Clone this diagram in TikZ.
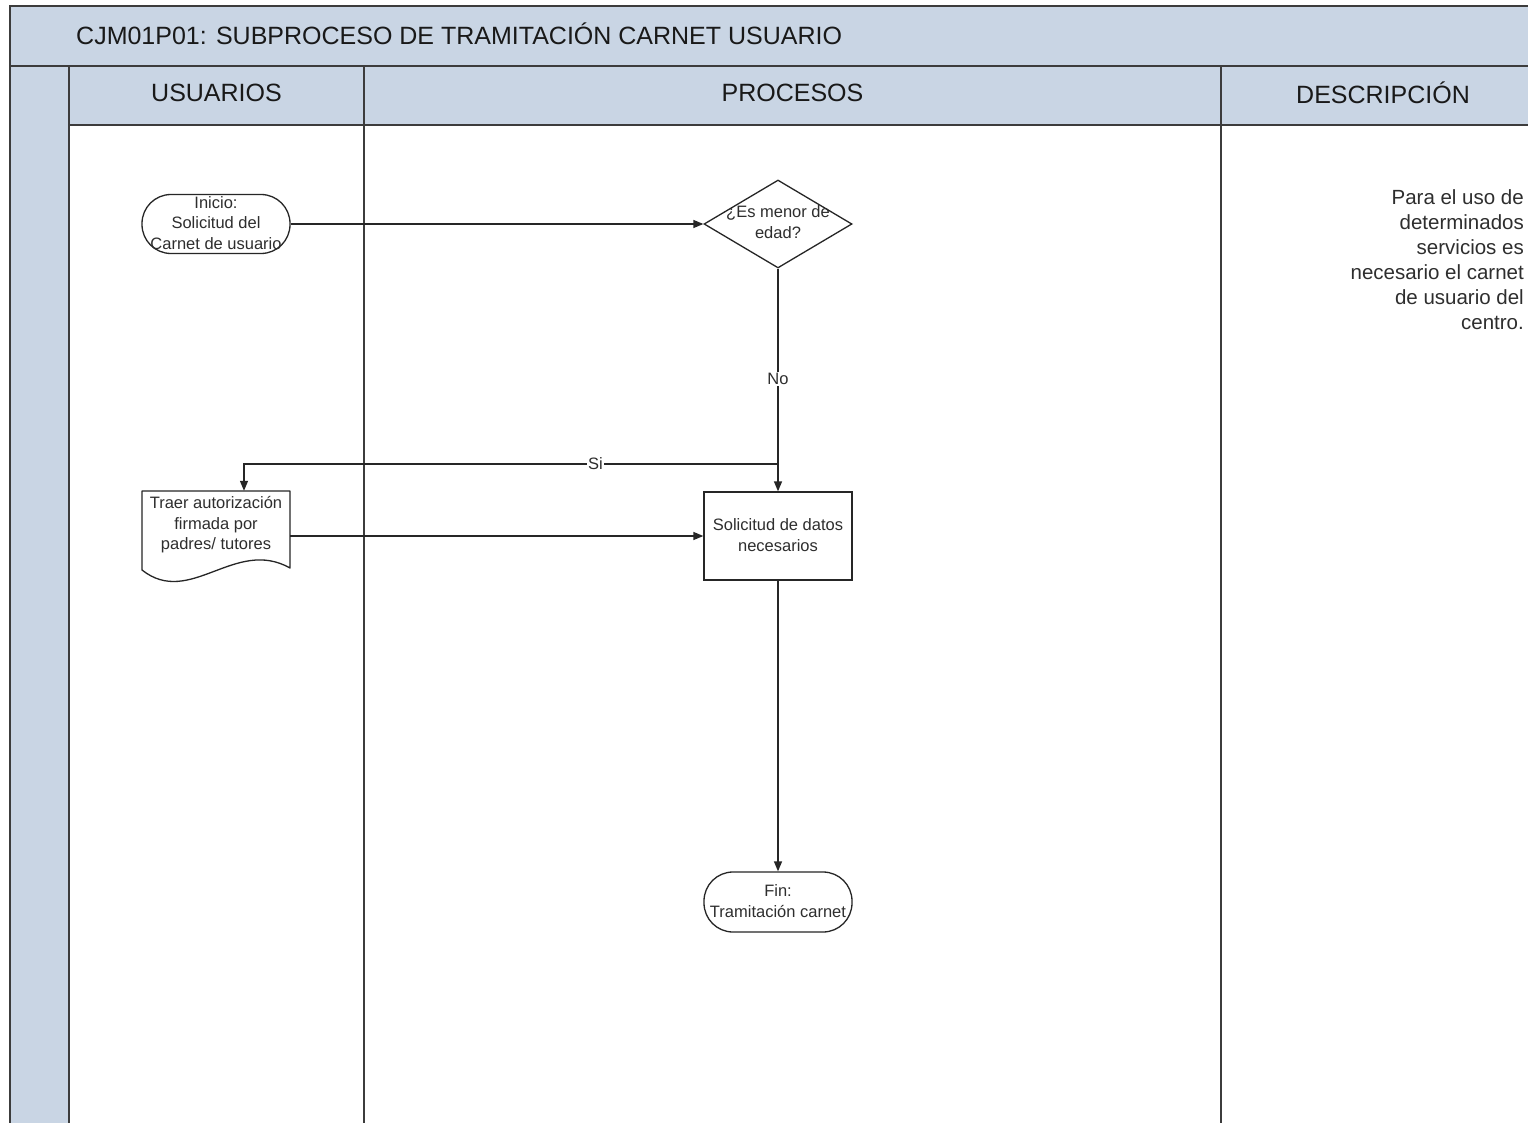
\documentclass[tikz,border=0pt]{standalone}
\usepackage{fontspec}
\setmainfont{Liberation Sans}
\usetikzlibrary{arrows.meta,shapes.geometric}
\definecolor{laneblue}{HTML}{C9D5E4}
\definecolor{frameline}{HTML}{3C3C3C}
\definecolor{inktext}{HTML}{2E2E2E}

\begin{document}
\begin{tikzpicture}[x=1pt,y=-1pt,
  frame/.style={line width=1.6pt, draw=frameline},
  flow/.style={line width=1.3pt, draw=black!85},
  arrowline/.style={flow, -{Triangle[length=10pt,width=8pt]}},
  shapebox/.style={draw=black!85, line width=1.3pt, inner sep=0pt, minimum width=148pt},
  terminal/.style={shapebox, rounded corners=29pt, minimum height=59pt},
  nodetext/.style={font=\fontsize{16.5}{20.5}\selectfont, text=inktext, align=center, inner sep=0pt},
  headtext/.style={font=\fontsize{25}{30}\selectfont, text=black!90, inner sep=0pt},
  edgetext/.style={font=\fontsize{16.5}{20}\selectfont, text=inktext, fill=white, inner sep=1pt}]

% canvas
\fill[white] (0,0) rectangle (1528,1123);
\useasboundingbox (0,0) rectangle (1528,1123);

% pool and lane headers
\fill[laneblue] (10,6) rectangle (1528,66);
\fill[laneblue] (10,66) rectangle (69,1123);
\fill[laneblue] (69,66) rectangle (1528,125);
\draw[frame] (1528,6) -- (10,6) -- (10,1123);
\draw[frame] (10,66) -- (1528,66);
\draw[frame] (69,125) -- (1528,125);
\draw[frame] (69,66) -- (69,1123);
\draw[frame] (364,66) -- (364,1123);
\draw[frame] (1221,66) -- (1221,1123);

\node[headtext, anchor=west] (title) at (76,34) {CJM01P01: SUBPROCESO DE TRAMITACIÓN CARNET USUARIO};
\node[headtext] (hUsuarios) at (216.5,93) {USUARIOS};
\node[headtext] (hProcesos) at (792.5,93) {PROCESOS};
\node[headtext] (hDescripcion) at (1383,93) {DESCRIPCIÓN};

% flow shapes
\node[terminal] (inicio) at (216,224) {};
\node[nodetext] (inicioText) at (216,223) {Inicio:\\Solicitud del\\Carnet de usuario};

\node[diamond, draw=black!85, line width=1.3pt, inner sep=0pt,
      minimum width=148pt, minimum height=88pt] (dia) at (778,224) {};
\node[nodetext] (diaText) at (778,222) {¿Es menor de\\edad?};

\node[inner sep=0pt, minimum width=148pt, minimum height=90pt] (doc) at (216,536) {};
\draw[flow, line join=round] (142,491) -- (142,570)
  .. controls (190,608) and (235,537) .. (290,568) -- (290,491) -- cycle;
\node[nodetext] (docText) at (216,525) {Traer autorización\\firmada por\\padres/ tutores};

\node[shapebox, minimum height=88pt] (datos) at (778,536) {};
\node[nodetext] (datosText) at (778,535) {Solicitud de datos\\necesarios};

\node[terminal, minimum height=60pt] (fin) at (778,902) {};
\node[nodetext] (finText) at (778,901) {Fin:\\Tramitación carnet};

% description column
\node[font=\fontsize{20.5}{25}\selectfont, text=inktext, align=right, inner sep=0pt,
      anchor=north east] (desc) at (1524,189)
  {Para el uso de\\determinados\\servicios es\\necesario el carnet\\de usuario del\\centro.};

% connectors
\coordinate (split) at (778,464);
\draw[arrowline] (inicio.east) -- (dia.west);
\draw[arrowline] (dia.south) -- node[edgetext, pos=0.4955] {No} (datos.north);
\draw[arrowline] (split) -| node[edgetext, pos=0.171] {Si} ([xshift=28pt]doc.north);
\draw[arrowline] (doc.east) -- (datos.west);
\draw[arrowline] (datos.south) -- (fin.north);
\end{tikzpicture}
\end{document}
